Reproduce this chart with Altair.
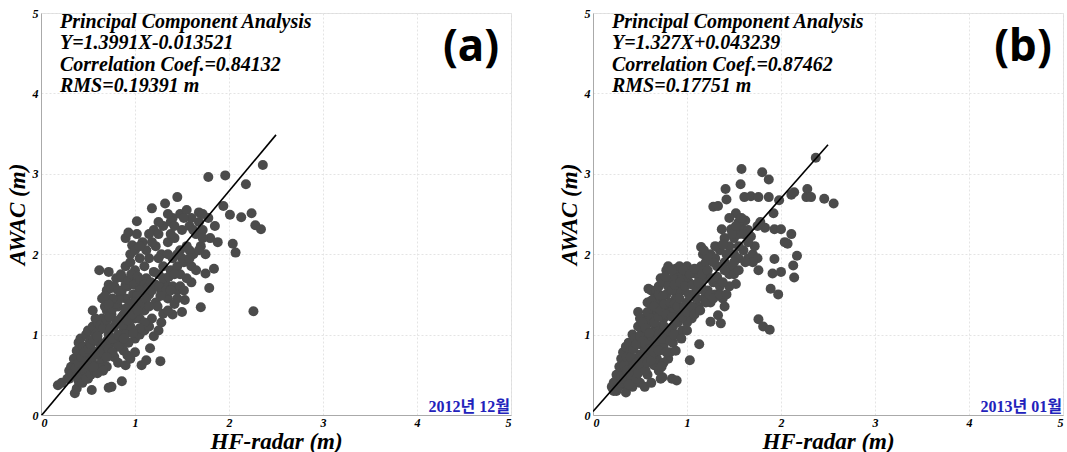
import altair as alt
import pandas as pd

# ---------------- data ----------------
A_PTS = [
    (0.18,0.37),(0.22,0.40),(0.28,0.45),(0.30,0.55),(0.32,0.60),(0.35,0.50),(0.36,0.27),(0.38,0.33),
    (0.40,0.42),(0.42,0.55),(0.45,0.65),(0.48,0.58),(0.50,0.45),(0.52,0.70),(0.54,0.31),(0.55,0.80),
    (0.58,0.62),(0.60,0.75),(0.62,0.90),(0.65,0.68),(0.68,0.85),(0.70,0.60),(0.72,0.34),(0.75,0.35),
    (0.78,0.72),(0.80,0.95),(0.82,0.65),(0.86,0.42),(0.88,0.80),(0.90,0.62),(0.92,0.74),(0.95,0.70),
    (1.00,0.78),(1.07,0.62),(1.12,0.68),(1.16,0.83),(1.27,0.67),
    (0.35,0.70),(0.38,0.80),(0.40,0.90),(0.42,0.95),(0.45,0.85),(0.48,1.00),(0.50,1.05),(0.52,0.92),
    (0.55,1.10),(0.58,1.00),(0.60,1.15),(0.62,1.05),(0.65,1.20),(0.68,1.10),(0.70,1.30),(0.72,1.00),
    (0.75,1.25),(0.78,1.40),(0.80,1.15),(0.82,1.35),(0.85,1.50),(0.88,1.25),(0.90,1.45),(0.92,1.60),
    (0.95,1.30),(0.98,1.50),(1.00,1.20),(1.02,1.65),(1.05,1.40),(1.08,1.55),(1.10,1.30),(1.12,1.70),
    (1.15,1.50),(1.18,1.20),(1.20,1.60),(1.22,1.40),(1.25,1.75),(1.28,1.55),(1.30,1.26),(1.32,1.65),
    (1.35,1.45),(1.38,1.80),(1.40,1.60),(1.42,1.38),(1.45,1.85),(1.50,1.28),(1.53,1.43),(0.70,1.55),
    (0.72,1.62),(0.75,1.58),(0.80,1.70),(0.85,1.75),(0.90,1.85),(0.95,1.90),(1.00,1.80),(0.62,1.80),
    (0.72,1.78),(0.86,1.71),(0.65,1.45),(0.68,1.35),(0.55,1.30),(0.58,1.20),(0.88,1.05),(0.95,1.10),
    (1.00,0.95),(1.05,1.00),(1.10,1.05),(1.15,1.10),(1.20,0.98),(0.85,0.88),(0.90,1.00),(0.78,0.90),
    (1.00,1.35),(1.05,1.20),(0.97,1.70),(1.10,1.85),(1.15,1.95),(1.05,1.95),
    (0.90,2.20),(0.93,2.27),(0.97,2.11),(1.02,2.25),(1.02,2.41),(1.08,2.15),(1.12,2.05),(1.18,2.57),
    (1.20,2.30),(1.22,2.10),(1.25,2.25),(1.28,2.00),(1.30,2.35),(1.32,2.63),(1.35,2.15),(1.38,2.40),
    (1.40,1.95),(1.42,2.20),(1.45,2.71),(1.48,2.05),(1.50,2.30),(1.52,1.90),(1.55,2.10),(1.58,2.35),
    (1.60,1.85),(1.62,2.00),(1.65,2.25),(1.68,2.40),(1.70,1.34),(1.70,2.10),(1.72,2.30),(1.75,1.76),
    (1.75,2.00),(1.78,2.96),(1.78,2.45),(1.79,1.58),(1.80,2.20),(1.84,1.82),(1.85,2.35),(1.88,2.15),
    (1.94,2.60),(1.96,2.98),(2.01,2.49),(2.04,2.13),(2.07,2.02),(2.13,2.46),(2.18,2.87),(2.24,2.51),
    (2.26,1.29),(2.28,2.36),(2.34,2.31),(2.36,3.11),(1.60,1.65),(1.65,1.80),(1.55,1.70),(1.48,1.75),
    (1.45,1.55),(1.50,1.95),(1.58,2.05),(1.35,2.00),(1.25,1.95),(1.30,1.85),(1.40,2.45),(1.48,2.50),
    (1.55,2.55),(1.68,2.52),(1.72,2.50),(1.60,2.45),
    (0.30,0.45),(0.33,0.52),(0.37,0.58),(0.40,0.65),(0.43,0.72),(0.46,0.78),(0.50,0.82),(0.53,0.88),
    (0.56,0.93),(0.60,0.98),(0.63,1.12),(0.66,1.08),(0.70,1.18),(0.73,1.22),(0.76,1.32),(0.80,1.38),
    (0.83,1.44),(0.86,1.55),(0.90,1.62),(0.93,1.68),(0.96,1.75),(0.99,1.62),(1.03,1.72),(1.06,1.68),
    (1.10,1.62),(1.13,1.58),(1.17,1.65),(1.20,1.78),(1.05,1.55),(1.02,1.48),(0.98,1.40),(0.94,1.38),
    (0.90,1.32),(0.86,1.22),(0.83,1.18),(0.78,1.10),(0.74,1.08),(0.70,0.92),(0.66,0.85),(0.62,0.80),
    (0.58,0.75),(0.54,0.68),(0.50,0.60),(0.46,0.52),(0.42,0.48),(0.38,0.48),(0.44,0.40),(0.48,0.45),
    (0.53,0.50),(0.57,0.55),(0.63,0.58),(0.67,0.75),(0.72,0.82),(0.76,0.95),(0.82,1.00),(0.87,1.12),
    (0.92,1.18),(0.97,1.25),(1.03,1.30),(1.08,1.40),(1.12,1.45),(1.18,1.55),(1.22,1.62),(1.26,1.60),
    (1.30,1.70),(1.33,1.55),(1.27,1.48),(1.24,1.35),(1.15,1.35),(1.10,1.15),(1.05,1.08),(0.98,1.02),
    (0.93,0.90),(0.88,0.95),(0.82,0.85),(0.76,0.78),(0.70,0.72),(0.66,0.55),(0.60,0.52),(0.56,0.60),
    (1.36,1.72),(1.42,1.75),(1.38,1.55),(1.45,1.45),(1.48,1.60),(1.52,1.55),(1.40,1.25),(1.35,1.30),
    (1.28,1.15),(1.25,1.05),(0.78,1.60),(0.82,1.55),(0.76,1.45),(0.72,1.38),(0.68,1.48),(0.95,2.00),
    (1.00,2.05),(1.05,2.10),(1.18,2.15),(1.15,2.25),(1.25,2.40),(1.35,2.50),(1.42,2.35),(1.52,2.45),
    (1.62,2.30),(1.72,2.20),(1.68,2.05),(1.58,1.95),(1.45,2.00),(1.38,2.25),
]
B_PTS = [
    (2.37,3.20),(1.58,3.06),(1.80,3.02),(1.87,2.93),(1.57,2.87),(1.41,2.81),(1.42,2.68),(1.28,2.59),
    (1.61,2.71),(1.68,2.72),(1.76,2.71),(1.87,2.71),(1.98,2.67),(2.11,2.74),(2.14,2.77),(2.28,2.81),
    (2.27,2.71),(2.32,2.71),(2.46,2.69),(2.56,2.63),(1.52,2.51),(1.92,2.51),(1.37,2.31),(1.47,2.31),
    (1.58,2.33),(1.83,2.33),(1.93,2.31),(2.00,2.31),(2.11,2.25),(2.07,2.13),(2.04,2.15),(2.17,1.98),
    (2.13,1.86),(2.14,1.71),(1.93,1.94),(1.76,1.80),(1.91,1.76),(2.00,1.78),(1.89,1.57),(1.97,1.50),
    (1.76,1.19),(1.81,1.10),(1.88,1.06),(1.52,1.63),(1.33,1.24),(1.36,1.14),(1.25,1.16),(1.13,0.88),
    (1.03,0.68),(0.74,0.47),(0.84,0.45),(0.89,0.43),(0.59,1.57),(0.48,1.28),(1.33,2.60),(1.15,2.09),
    (1.17,2.00),(1.24,1.94),
    (0.20,0.35),(0.22,0.40),(0.25,0.30),(0.28,0.45),(0.30,0.55),(0.32,0.38),(0.35,0.28),(0.35,0.50),
    (0.38,0.65),(0.40,0.42),(0.42,0.35),(0.45,0.55),(0.48,0.70),(0.50,0.40),(0.52,0.60),(0.55,0.35),
    (0.58,0.50),(0.60,0.75),(0.62,0.40),(0.65,0.62),(0.68,0.85),(0.70,0.55),(0.72,0.45),(0.25,0.50),
    (0.28,0.60),(0.30,0.70),(0.32,0.78),(0.35,0.85),(0.38,0.90),(0.40,0.80),(0.42,1.00),(0.45,0.95),
    (0.48,1.10),(0.50,0.88),(0.52,1.05),(0.55,1.20),(0.58,0.95),(0.60,1.15),(0.62,1.30),(0.65,1.05),
    (0.68,1.25),(0.70,1.40),(0.72,1.00),(0.75,1.20),(0.78,1.50),(0.80,1.30),(0.82,1.65),(0.85,1.10),
    (0.88,1.45),(0.90,1.75),(0.92,1.25),(0.95,1.55),(0.98,1.80),(1.00,1.40),(1.02,1.65),(1.05,1.20),
    (1.08,1.50),(1.10,1.75),(1.12,1.35),(1.15,1.60),(1.18,1.45),(1.20,1.70),(1.22,1.55),(1.25,1.40),
    (1.28,1.65),(1.30,1.50),(1.35,1.60),(1.38,1.45),(1.40,1.35),(0.58,1.40),(0.62,1.55),(0.65,1.45),
    (0.70,1.60),(0.72,1.70),(0.75,1.65),(0.78,1.80),(0.80,1.85),(0.85,1.70),(0.88,1.82),(0.92,1.85),
    (0.95,1.70),(1.00,1.85),(1.05,1.80),(0.45,0.70),(0.50,0.75),(0.55,0.80),(0.60,0.90),(0.65,0.95),
    (0.70,1.10),(0.75,0.85),(0.78,1.00),(0.80,0.70),(0.85,0.90),(0.90,1.00),(0.95,1.05),(1.00,1.15),
    (0.68,0.70),(0.75,0.65),(0.82,0.78),(0.40,0.60),(0.50,1.20),(0.55,1.00),(0.85,1.30),(0.90,1.55),
    (1.10,1.55),(1.15,1.85),(1.20,1.90),(1.25,2.00),(1.30,1.95),(1.35,2.05),(1.40,1.90),(1.45,1.75),
    (1.50,2.00),(1.45,2.10),(1.40,2.20),(1.48,1.85),(1.55,1.95),(1.60,2.05),(1.65,1.95),(1.70,2.00),
    (1.72,2.10),(1.75,1.95),(1.68,2.22),(1.75,2.35),(1.78,2.40),(1.62,2.42),(1.55,2.40),(1.50,2.20),
    (1.55,2.25),(1.65,2.30),(1.70,1.90),(1.45,1.60),(1.50,1.75),
    (0.22,0.30),(0.24,0.42),(0.27,0.35),(0.30,0.40),(0.30,0.48),(0.33,0.45),(0.33,0.62),(0.36,0.55),
    (0.36,0.72),(0.38,0.38),(0.40,0.50),(0.40,0.72),(0.43,0.60),(0.43,0.82),(0.46,0.45),(0.46,0.65),
    (0.46,0.88),(0.48,0.52),(0.50,0.62),(0.50,0.98),(0.53,0.72),(0.53,0.92),(0.53,1.15),(0.56,0.55),
    (0.56,0.88),(0.56,1.08),(0.58,0.65),(0.58,1.28),(0.60,0.82),(0.60,1.02),(0.62,0.68),(0.62,1.20),
    (0.62,1.42),(0.65,0.78),(0.65,1.15),(0.65,1.35),(0.67,0.92),(0.67,1.55),(0.70,0.80),(0.70,1.00),
    (0.70,1.22),(0.70,1.50),(0.72,1.30),(0.73,0.60),(0.74,0.95),(0.74,1.48),(0.76,1.10),(0.76,1.38),
    (0.77,1.72),(0.78,0.78),(0.78,1.25),(0.80,1.60),(0.80,1.05),(0.82,1.40),(0.82,0.92),(0.84,1.22),
    (0.84,1.55),(0.84,1.80),(0.86,1.00),(0.87,1.38),(0.87,1.62),(0.88,0.80),(0.90,1.15),(0.90,1.35),
    (0.92,1.45),(0.93,1.65),(0.94,0.95),(0.95,1.22),(0.96,1.80),(0.97,1.35),(0.98,1.60),(1.00,1.05),
    (1.00,1.28),(1.02,1.50),(1.03,1.75),(1.05,1.35),(1.06,1.62),(1.08,1.25),(1.08,1.82),(1.10,1.45),
    (1.12,1.65),(1.14,1.30),(1.16,1.75),(1.18,1.55),(1.20,1.40),(1.22,1.80),(1.24,1.50),(1.26,1.70),
    (1.28,1.45),(1.32,1.72),(1.35,1.50),(1.38,1.65),(1.42,1.50),(1.40,1.80),(1.32,1.85),(1.28,1.90),
    (1.22,1.98),(1.18,2.05),(1.30,2.10),(1.38,2.12),(1.42,2.00),(1.48,2.25),(1.52,2.35),(1.60,2.25),
    (1.65,2.15),(1.58,2.45),(1.45,2.45),(1.55,2.10),(1.62,1.90),(1.50,1.90),(1.55,1.80),
]
A_FIT = (1.3991, -0.013521)
B_FIT = (1.327, 0.043239)
FIT_X = [0.0, 2.5]
A_TEXT = ["Principal Component Analysis", "Y=1.3991X-0.013521",
          "Correlation Coef.=0.84132", "RMS=0.19391 m"]
B_TEXT = ["Principal Component Analysis", "Y=1.327X+0.043239",
          "Correlation Coef.=0.87462", "RMS=0.17751 m"]
A_TAG, B_TAG = "(a)", "(b)"
A_DATE, B_DATE = "2012년 12월", "2013년 01월"
TICKS = [0, 1, 2, 3, 4, 5]

W, H = 470, 402
SERIF = "Liberation Serif"


def panel(pts, fit, lines, tag, date):
    df = pd.DataFrame(pts, columns=["x", "y"])
    xsc = alt.Scale(domain=[0, 5], nice=False, zero=False)
    ysc = alt.Scale(domain=[0, 5], nice=False, zero=False)
    common = dict(values=TICKS, format="d", labelFont=SERIF, labelFontStyle="italic",
                  labelFontWeight="bold", labelFontSize=12, labelColor="black",
                  titleFont=SERIF, titleFontStyle="italic", titleFontWeight="bold",
                  titleFontSize=23, titleColor="black", domainColor="#aaaaaa",
                  ticks=False, gridColor="#e4e4e4", gridDash=[2, 2])
    xaxis = alt.Axis(title="HF-radar (m)", titlePadding=2, labelPadding=2, **common)
    yaxis = alt.Axis(title="AWAC (m)", titlePadding=3, labelPadding=3, **common)
    pts_chart = alt.Chart(df).mark_circle(size=100, color="#4b4b4b", opacity=1).encode(
        x=alt.X("x:Q", scale=xsc, axis=xaxis),
        y=alt.Y("y:Q", scale=ysc, axis=yaxis),
    )
    ldf = pd.DataFrame({"x": FIT_X})
    ldf["y"] = fit[0] * ldf["x"] + fit[1]
    line = alt.Chart(ldf).mark_line(color="black", strokeWidth=1.6, clip=True).encode(
        x=alt.X("x:Q", scale=xsc), y=alt.Y("y:Q", scale=ysc))
    layers = [pts_chart, line]
    for i, t in enumerate(lines):
        layers.append(alt.Chart(pd.DataFrame({"t": [t]})).mark_text(
            align="left", baseline="middle", font=SERIF, fontStyle="italic",
            fontWeight="bold", fontSize=20, color="black").encode(
            x=alt.value(19), y=alt.value(8.5 + i * 21.5), text="t:N"))
    layers.append(alt.Chart(pd.DataFrame({"t": [tag]})).mark_text(
        align="center", baseline="middle", font="Noto Sans", fontWeight="bold",
        fontSize=44, color="black").encode(x=alt.value(430), y=alt.value(35), text="t:N"))
    layers.append(alt.Chart(pd.DataFrame({"t": [date]})).mark_text(
        align="right", baseline="middle", font="Liberation Serif, Noto Sans CJK KR",
        fontWeight="bold", fontSize=16, color="#2222bb").encode(
        x=alt.value(469), y=alt.value(394), text="t:N"))
    return alt.layer(*layers).properties(width=W, height=H)


chart = alt.hconcat(
    panel(A_PTS, A_FIT, A_TEXT, A_TAG, A_DATE),
    panel(B_PTS, B_FIT, B_TEXT, B_TAG, B_DATE),
    spacing=82, bounds="flush",
).properties(
    padding={"left": 5, "top": 6, "right": 0, "bottom": 0},
).configure_view(stroke="#aaaaaa", strokeWidth=1).configure(background="white")

chart.save("out.html", embed_options={"renderer": "svg", "actions": False})
